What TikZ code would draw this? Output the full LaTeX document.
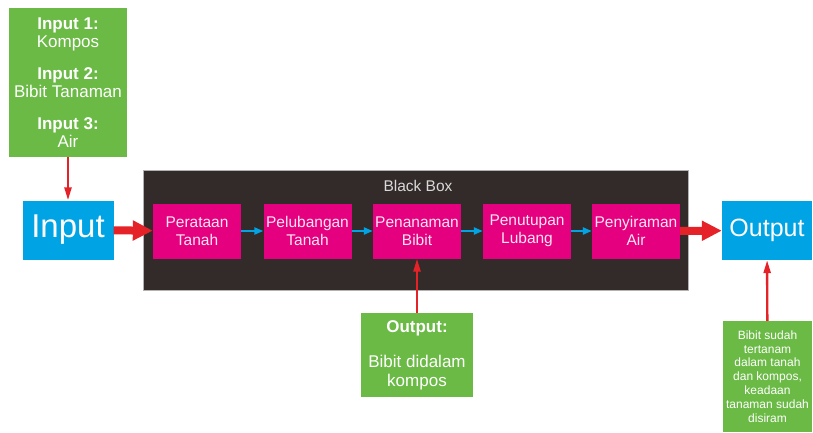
\documentclass[tikz,border=0pt]{standalone}
\usepackage{fontspec}
\setmainfont{Liberation Sans}
\usetikzlibrary{arrows.meta}
\definecolor{hijau}{RGB}{106,186,69}
\definecolor{biru}{RGB}{0,163,228}
\definecolor{magen}{RGB}{228,0,126}
\definecolor{hitam}{RGB}{51,43,42}
\definecolor{merah}{RGB}{228,34,40}
\tikzset{
  kotakhijau/.style={fill=hijau,text=white,align=center,inner sep=0pt},
  kotakbiru/.style={fill=biru,text=white,inner sep=0pt,minimum width=91pt,minimum height=59pt},
  proses/.style={fill=magen,text=white!90!magen,align=center,inner sep=0pt,minimum width=88pt,minimum height=55pt,font=\fontsize{15.5}{17.5}\selectfont},
  panahbesar/.style={merah,line width=8pt,-{Triangle[length=20pt,width=19pt]}},
  panahkecil/.style={merah,line width=2.4pt,-{Triangle[length=13pt,width=7pt]}},
  panahbiru/.style={biru,line width=2.6pt,-{Triangle[length=9pt,width=7pt]}}
}
\begin{document}
\begin{tikzpicture}[x=1pt,y=-1pt]
			\useasboundingbox (0,0) rectangle (813,432);

			% Kotak input
			\node[kotakhijau,minimum width=118pt,minimum height=149pt,font=\fontsize{17}{18.5}\selectfont] (masuk) at (68,82.5)
			  {\textbf{Input 1:}\\Kompos\\[13pt]\textbf{Input 2:}\\Bibit Tanaman\\[13pt]\textbf{Input 3:}\\Air};
			\node[kotakbiru,font=\fontsize{33}{36}\selectfont] (input) at (68,230) {Input};

			% Black box
			\node[fill=hitam,draw=gray!60,line width=.6pt,minimum width=545pt,minimum height=120pt,inner sep=0pt] (kotak) at (415.5,230) {};
			\node[text=white!85!black,font=\fontsize{15.5}{17}\selectfont] (judul) at (418,186) {Black Box};

			\node[proses] (p1) at (197,231) {Perataan\\Tanah};
			\node[proses] (p2) at (307.5,231) {Pelubangan\\Tanah};
			\node[proses] (p3) at (417,231) {Penanaman\\Bibit};
			\node[proses] (p4) at (527,231) {Penutupan\\Lubang};
			\node[proses] (p5) at (636,231) {Penyiraman\\Air};

			\node[kotakbiru,minimum width=90pt,font=\fontsize{25}{28}\selectfont] (output) at (767,230.5) {Output};

			% Kotak output
			\node[kotakhijau,minimum width=112pt,minimum height=84pt,font=\fontsize{17}{19}\selectfont] (hasil) at (417,355)
			  {\textbf{Output:}\\[16pt]Bibit didalam\\kompos};
			\node[kotakhijau,minimum width=89pt,minimum height=111pt,font=\fontsize{12}{13.8}\selectfont] (akhir) at (767.5,376.5)
			  {Bibit sudah\\tertanam\\dalam tanah\\dan kompos,\\keadaan\\tanaman sudah\\disiram};

			% Panah
			\draw[panahkecil] (masuk) -- (input);
			\draw[panahbesar] (input) -- (p1);
			\foreach \a/\b in {p1/p2,p2/p3,p3/p4,p4/p5}
			  \draw[panahbiru] (\a) -- (\b);
			\draw[panahbesar] (p5) -- (output);
			\draw[panahkecil] (hasil) -- (p3);
			\draw[panahkecil] (akhir) -- (output);

		    \end{tikzpicture}
\end{document}
